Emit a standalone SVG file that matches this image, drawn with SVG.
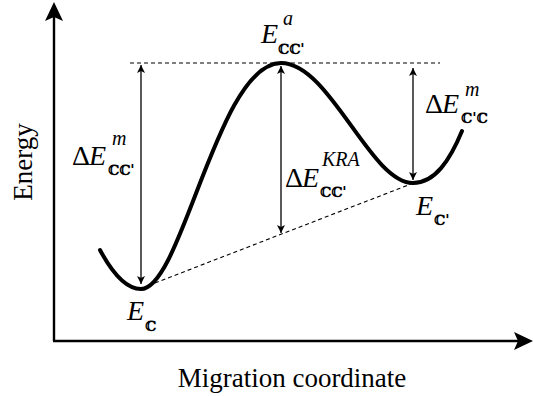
<svg xmlns="http://www.w3.org/2000/svg" width="533" height="396" viewBox="0 0 533 396">
<style>
.thin{stroke:#000;stroke-width:1.3;fill:none}
.dash{stroke:#000;stroke-width:1.1;stroke-dasharray:4 3;fill:none}
.axis{stroke:#000;stroke-width:2.4;fill:none}
</style>
<defs>
<marker id="ah" viewBox="0 0 10 10" refX="10" refY="5" markerWidth="9" markerHeight="8" markerUnits="userSpaceOnUse" orient="auto-start-reverse">
<path d="M0,0 L10,5 L0,10 L2.5,5 Z" fill="#000"/>
</marker>
</defs>
<g id="axes">
<line class="axis" x1="54" y1="341" x2="54" y2="14"/>
<path d="M54,2 L63,21 L54,17 L45,21 Z" fill="#000"/>
<line class="axis" x1="53" y1="341" x2="520" y2="341"/>
<path d="M533,341 L514,350 L518,341 L514,332 Z" fill="#000"/>
</g>
<g id="curve">
<path d="M100,250 C115,278 128,289 141,289 C182,289 218,63 281,63 C330,63 370,183 413,183 C435,183 450,160 462,131" stroke="#000" stroke-width="4" fill="none" stroke-linecap="round"/>
</g>
<g id="connectors">
<line class="dash" x1="130" y1="63" x2="440" y2="63"/>
<line class="dash" x1="155" y1="283" x2="411" y2="184"/>
<line class="thin" x1="141" y1="65" x2="141" y2="284" marker-start="url(#ah)" marker-end="url(#ah)"/>
<line class="thin" x1="281" y1="66" x2="281" y2="233" marker-start="url(#ah)" marker-end="url(#ah)"/>
<line class="thin" x1="413" y1="68" x2="413" y2="180" marker-start="url(#ah)" marker-end="url(#ah)"/>
</g>
<g id="label-dEm-left">
<text font-family="Liberation Serif" font-size="28" x="72" y="165">Δ</text>
<text font-family="Liberation Serif" font-size="28" font-style="italic" x="89" y="165">E</text>
<text font-family="Liberation Serif" font-size="20" font-style="italic" x="112" y="145">m</text>
<text font-family="DejaVu Serif" font-size="14" font-weight="bold" x="108" y="175">ℂℂ'</text>
</g>
<g id="label-Ea">
<text font-family="Liberation Serif" font-size="28" font-style="italic" x="261" y="43">E</text>
<text font-family="Liberation Serif" font-size="20" font-style="italic" x="283" y="25">a</text>
<text font-family="DejaVu Serif" font-size="14" font-weight="bold" x="278" y="54">ℂℂ'</text>
</g>
<g id="label-dEKRA">
<text font-family="Liberation Serif" font-size="28" x="285" y="187">Δ</text>
<text font-family="Liberation Serif" font-size="28" font-style="italic" x="302" y="187">E</text>
<text font-family="Liberation Serif" font-size="20" font-style="italic" x="322" y="166">KRA</text>
<text font-family="DejaVu Serif" font-size="14" font-weight="bold" x="320" y="197">ℂℂ'</text>
</g>
<g id="label-dEm-right">
<text font-family="Liberation Serif" font-size="28" x="425" y="113">Δ</text>
<text font-family="Liberation Serif" font-size="28" font-style="italic" x="442" y="113">E</text>
<text font-family="Liberation Serif" font-size="20" font-style="italic" x="465" y="96">m</text>
<text font-family="DejaVu Serif" font-size="14" font-weight="bold" x="461" y="123">ℂ'ℂ</text>
</g>
<g id="label-Ec2">
<text font-family="Liberation Serif" font-size="28" font-style="italic" x="416" y="215">E</text>
<text font-family="DejaVu Serif" font-size="14" font-weight="bold" x="434" y="225">ℂ'</text>
</g>
<g id="label-Ec">
<text font-family="Liberation Serif" font-size="28" font-style="italic" x="127" y="320">E</text>
<text font-family="DejaVu Serif" font-size="14" font-weight="bold" x="145" y="331">ℂ</text>
</g>
<g id="axis-labels">
<text font-family="Liberation Serif" font-size="27" x="292" y="387" text-anchor="middle">Migration coordinate</text>
<text font-family="Liberation Serif" font-size="27" transform="translate(32,162) rotate(-90)" text-anchor="middle">Energy</text>
</g>
</svg>
